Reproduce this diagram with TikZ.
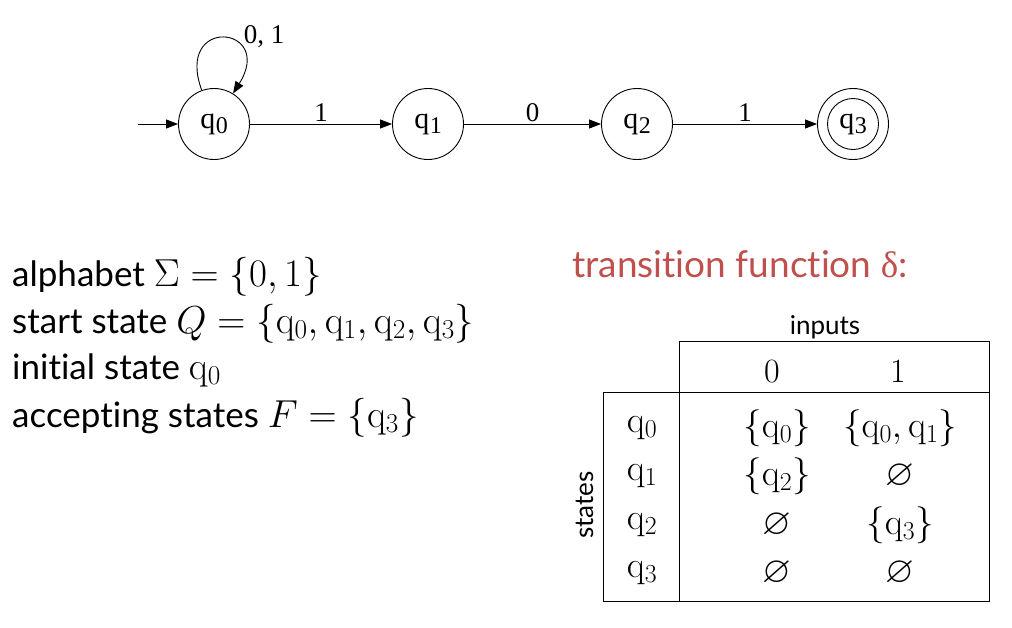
\RequirePackage{fix-cm}
\documentclass[tikz,border=0pt]{standalone}
\usepackage{amssymb}
\usepackage[no-math]{fontspec}
\setmainfont{Lato}[Ligatures=NoCommon]
\newfontfamily\diagfont{Liberation Serif}
\usetikzlibrary{arrows.meta,positioning}
\definecolor{titlered}{RGB}{192,80,77}

% state name with a lowered index, as in the automaton
\newcommand{\sq}[1]{q\kern0.5pt\raisebox{-0.4ex}{\scalebox{0.8}{#1}}}
% formulas a little larger than the text round them
\newcommand{\mth}[1]{{\fontsize{39}{46}\selectfont$#1$}}

\begin{document}
\begin{tikzpicture}[x=1pt, y=-1pt,
    state/.style={circle, draw, line width=0.9pt, minimum size=71pt, inner sep=0pt,
                  font=\diagfont\fontsize{30}{33}\selectfont},
    arrow/.style={-{Triangle[length=12pt,width=9pt]}, line width=0.9pt},
    lbl/.style={font=\diagfont\fontsize{27}{30}\selectfont, inner sep=2pt},
    info/.style={anchor=base west, inner sep=0pt, font=\fontsize{35}{42}\selectfont},
    hdr/.style={inner sep=0pt, font=\fontsize{34}{40}\selectfont},
    cell/.style={inner sep=0pt, font=\fontsize{37}{44}\selectfont}
]
    \useasboundingbox (0,0) rectangle (1012,627);

    % Automaton
    \node[state] (q0) at (214,124) {\sq{0}};
    \node[state] (q1) at (428,124) {\sq{1}};
    \node[state] (q2) at (637,124) {\sq{2}};
    \node[state] (q3) at (853,124) {\sq{3}};
    \node[circle, draw, line width=0.9pt, minimum size=51pt] (q3in) at (q3.center) {};
    \coordinate (start) at (138,124);

    \draw[arrow] (start) -- (q0);
    \draw[arrow] (q0) to[out=110, in=58, looseness=6.5] (q0);
    \node[lbl] (loop) at (264,37) {0, 1};
    \draw[arrow] (q0) -- node[lbl, above] {1} (q1);
    \draw[arrow] (q1) -- node[lbl, above] {0} (q2);
    \draw[arrow] (q2) -- node[lbl, above] {1} (q3);

    % Definition
    \node[info] (alpha) at (12,286) {alphabet \mth{\Sigma = \{0, 1\}}};
    \node[info] (states) at (12,333) {start state \mth{Q = \{\mathrm{q}_0, \mathrm{q}_1, \mathrm{q}_2, \mathrm{q}_3\}}};
    \node[info] (init) at (12,379) {initial state \mth{\mathrm{q}_0}};
    \node[info] (accept) at (12,427) {accepting states \mth{F = \{\mathrm{q}_3\}}};

    % Transition table
    \node[info, text=titlered, font=\fontsize{37}{44}\selectfont] (title) at (572,277) {transition function {\diagfont δ}:};
    \node[font=\fontsize{26}{30}\selectfont, inner sep=0pt] (inputs) at (825,327) {inputs};
    \node[font=\fontsize{26}{30}\selectfont, inner sep=0pt, rotate=90] (statesl) at (585,505) {states};

    \draw[line width=0.9pt] (679,601) -- (679,341) -- (989,341) -- (989,601) -- (603,601) -- (603,392) -- (989,392);

    \node[hdr] (h0) at (772,372) {$0$};
    \node[hdr] (h1) at (898,372) {$1$};

    \node[cell] (r0) at (642,428) {$\mathrm{q}_0$};
    \node[cell] (r1) at (642,476) {$\mathrm{q}_1$};
    \node[cell] (r2) at (642,525) {$\mathrm{q}_2$};
    \node[cell] (r3) at (642,573) {$\mathrm{q}_3$};

    \node[cell] (c00) at (777,428) {$\{\mathrm{q}_0\}$};
    \node[cell] (c01) at (900,428) {$\{\mathrm{q}_0, \mathrm{q}_1\}$};
    \node[cell] (c10) at (777,476) {$\{\mathrm{q}_2\}$};
    \node[cell] (c11) at (900,476) {$\varnothing$};
    \node[cell] (c20) at (777,525) {$\varnothing$};
    \node[cell] (c21) at (900,525) {$\{\mathrm{q}_3\}$};
    \node[cell] (c30) at (777,573) {$\varnothing$};
    \node[cell] (c31) at (900,573) {$\varnothing$};
\end{tikzpicture}
\end{document}
